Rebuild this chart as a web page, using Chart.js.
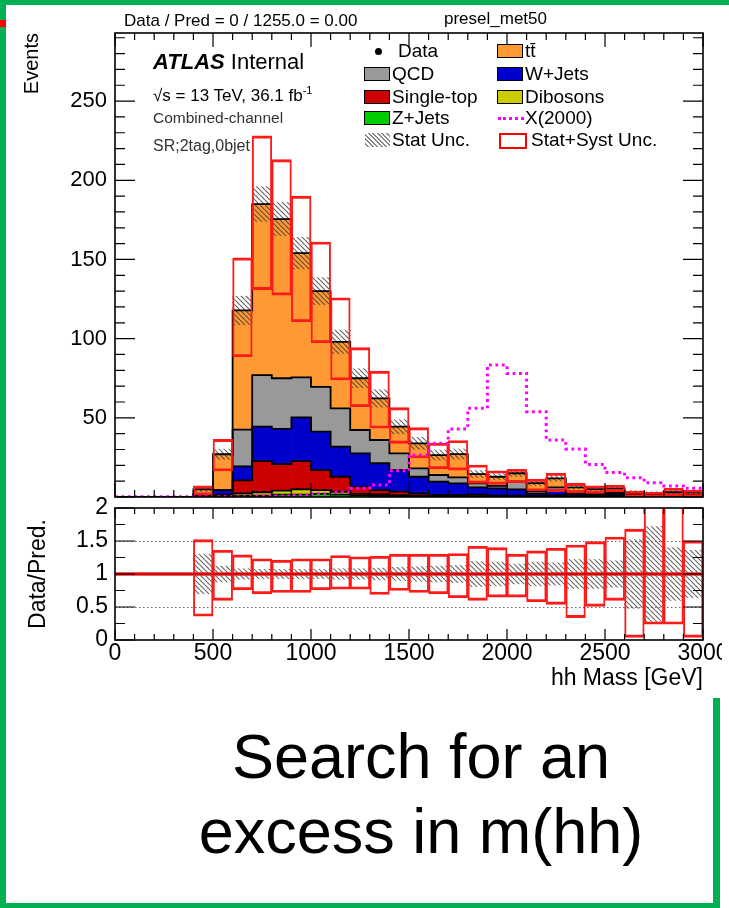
<!DOCTYPE html>
<html>
<head>
<meta charset="utf-8">
<title>hh mass</title>
<script src="https://cdn.jsdelivr.net/npm/chart.js@4.4.1/dist/chart.umd.min.js"></script>
<style>
  html, body { margin: 0; padding: 0; }
  body { width: 729px; height: 908px; position: relative; overflow: hidden; background: #fff;
         font-family: "Liberation Sans", Arial, Helvetica, sans-serif; color: #000; }
  .abs { position: absolute; white-space: nowrap; }
  #greenRight { left: 713px; top: 0; width: 7px; height: 908px; background: #00b050; z-index: 1; }
  #plot { left: 0; top: 0; width: 722px; height: 698px; background: #fff; overflow: hidden; z-index: 2; }
  #greenTop { left: 0; top: 0; width: 729px; height: 5px; background: #00b050; z-index: 3; }
  #greenLeft { left: 0; top: 0; width: 6px; height: 908px; background: #00b050; z-index: 3; }
  #greenBottom { left: 0; top: 903px; width: 720px; height: 5px; background: #00b050; z-index: 3; }
  #redMark { left: 0; top: 20px; width: 6px; height: 7px; background: #ff0000; z-index: 4; }
  canvas { position: absolute; left: 0; }
  #mainCanvas { top: 0; }
  #ratioCanvas { top: 490px; }
  .hdr { font-size: 17px; line-height: 20px; }
  .leg { font-size: 19px; line-height: 22px; }
  .sw { position: absolute; width: 24px; height: 12px; border: 1.5px solid #000; }
  sup { font-size: 11px; line-height: 0; vertical-align: 7px; }
  #caption { left: 113px; top: 719px; width: 616px; text-align: center; font-size: 63px; line-height: 75px; z-index: 2; }
</style>
</head>
<body>
<div id="greenRight" class="abs"></div>
<div id="plot" class="abs">
  <canvas id="mainCanvas" width="729" height="505"></canvas>
  <canvas id="ratioCanvas" width="729" height="210"></canvas>

  <div class="abs hdr" style="left:124px; top:11px;">Data / Pred = 0 / 1255.0 = 0.00</div>
  <div class="abs hdr" style="left:444px; top:9px;">presel_met50</div>

  <div class="abs" style="left:153px; top:49px; font-size:22px; line-height:26px;"><b><i>ATLAS</i></b> Internal</div>
  <div class="abs" style="left:153px; top:86px; font-size:17px; line-height:20px;">√s = 13 TeV, 36.1 fb<sup>-1</sup></div>
  <div class="abs" style="left:153px; top:109px; font-size:15.5px; line-height:18px; color:#333;">Combined-channel</div>
  <div class="abs" style="left:153px; top:137px; font-size:16px; line-height:18px; color:#333;">SR;2tag,0bjet</div>

  <!-- legend, left column -->
  <div class="abs" style="left:375px; top:48px; width:7px; height:7px; border-radius:50%; background:#000;"></div>
  <div class="abs leg" style="left:398px; top:40px;">Data</div>
  <div class="sw" style="left:364px; top:67px; background:#999999;"></div>
  <div class="abs leg" style="left:392px; top:63px;">QCD</div>
  <div class="sw" style="left:364px; top:90px; background:#cc0000;"></div>
  <div class="abs leg" style="left:392px; top:86px;">Single-top</div>
  <div class="sw" style="left:364px; top:111px; background:#00cc00;"></div>
  <div class="abs leg" style="left:392px; top:107px;">Z+Jets</div>
  <div class="abs" style="left:365px; top:133px; width:25px; height:14px;
       background:repeating-linear-gradient(45deg, #fff 0 2px, #888 2px 3.2px);"></div>
  <div class="abs leg" style="left:392px; top:129px;">Stat Unc.</div>

  <!-- legend, right column -->
  <div class="sw" style="left:497px; top:44px; background:#ff9933;"></div>
  <div class="abs leg" style="left:525px; top:40px;">t&#x0074;&#x0304;</div>
  <div class="sw" style="left:497px; top:67px; background:#0000cc;"></div>
  <div class="abs leg" style="left:525px; top:63px;">W+Jets</div>
  <div class="sw" style="left:497px; top:90px; background:#cccc00;"></div>
  <div class="abs leg" style="left:525px; top:86px;">Dibosons</div>
  <div class="abs" style="left:498px; top:117px; width:26px; height:0; border-top:3px dotted #ff00ff;"></div>
  <div class="abs leg" style="left:525px; top:107px;">X(2000)</div>
  <div class="sw" style="left:499px; top:133px; background:#fff; border:2px solid #ff0000;"></div>
  <div class="abs leg" style="left:531px; top:129px;">Stat+Syst Unc.</div>
</div>
<div id="greenTop" class="abs"></div>
<div id="greenLeft" class="abs"></div>
<div id="greenBottom" class="abs"></div>
<div id="redMark" class="abs"></div>
<div id="caption" class="abs">Search for an<br>excess in m(hh)</div>

<script>
// bin low edges of hh mass [GeV], 100 GeV wide
const binLow = [0, 100, 200, 300, 400, 500, 600, 700, 800, 900,
  1000, 1100, 1200, 1300, 1400, 1500, 1600, 1700, 1800, 1900,
  2000, 2100, 2200, 2300, 2400, 2500, 2600, 2700, 2800, 2900];
const xMax = 3000;

// background components, stacked bottom to top
const zJets = [0, 0, 0, 0, 0, 0.2, 0.8, 0.8, 1.5, 1.5, 2.0, 1.5, 1.0, 0.8, 0.6, 0.4, 0.3, 0.3, 0.2, 0.2,
  0.2, 0.2, 0.2, 0.2, 0.1, 0.1, 0.1, 0.1, 0.1, 0.1];
const dibosons = [0, 0, 0, 0, 0.2, 0.3, 1.5, 2.2, 2.5, 3.4, 2.4, 1.8, 1.0, 0.8, 0.6, 0.4, 0.3, 0.3, 0.2, 0.2,
  0.2, 0.1, 0.2, 0.2, 0.2, 0.2, 0.1, 0.1, 0.1, 0.1];
const singleTop = [0, 0, 0, 0, 0.5, 1.0, 8.2, 19.7, 16.8, 17.8, 12.6, 9.5, 4.5, 2.8, 2.2, 1.5, 0.7, 0.8, 1.1, 0.6,
  0.5, 0.4, 0.8, 0.6, 0.5, 0.5, 0.4, 0.3, 0.3, 0.3];
const wJets = [0, 0, 0, 0, 0.8, 2.9, 8.9, 21.7, 22.2, 27.6, 24.3, 19.0, 21.1, 16.9, 13.6, 10.5, 8.4, 7.2, 4.6, 4.5,
  3.9, 1.4, 2.8, 1.2, 0.8, 1.2, 0.6, 0.4, 0.5, 0.4];
const qcd = [0, 0, 0, 0, 0, 0, 23.1, 32.6, 32.0, 25.3, 28.3, 24.2, 14.7, 14.7, 10.6, 5.3, 4.2, 3.8, 2.5, 1.5,
  4.9, 1.5, 2.1, 1.2, 1.0, 1.0, 0.5, 0.3, 0.5, 0.5];
const ttbar = [0, 0, 0, 0, 3.4, 22.6, 75.3, 108, 100.5, 78.4, 60.4, 42.0, 32.7, 26.3, 16.8, 15.8, 12.6, 14.7, 5.9, 5.8,
  5.3, 5.1, 5.7, 2.7, 2.4, 2.5, 1.0, 0.7, 1.5, 1.3];

// stat uncertainty on the total prediction (events)
const statUnc = [0, 0, 0, 0, 1.5, 3.2, 9, 11, 10.5, 10, 8.5, 7.4, 6, 5.5, 4.5, 3.8, 3.2, 3.2, 2.2, 2,
  2, 1.5, 1.8, 1.2, 1, 1, 1.3, 1.4, 1.1, 0.9];
// stat+syst band edges (events)
const systUp = [null, null, null, null, 7, 36.4, 151, 228, 213, 190, 161, 125.8, 94.3, 79.5, 56.4, 43.8, 34, 35.7, 20.2, 16.6,
  17.5, 11.2, 15, 8.6, 7.1, 7.6, 3.8, 3, 5.5, 4.4];
const systDown = [null, null, null, null, 1.3, 16.4, 88.6, 131, 127.5, 110.7, 97.4, 73.9, 57, 43.4, 33.9, 24.6, 17.8, 17, 8.6, 8,
  9, 3.8, 3.4, 2.7, 2.3, 3.4, 0, 0.2, 0.6, 0.2];

// signal X(2000)
const signalX2000 = [0.2, 0.2, 0.2, 0.2, 0.2, 0.2, 0.2, 0.4, 0.6, 1.2, 2.0, 3.0, 5.5, 7.6, 16.6, 26.5, 33.9, 43, 56, 83.3,
  78, 53.9, 36, 30.3, 20.6, 15.4, 12.2, 9, 7, 5.5];

// ratio panel: stat+syst box edges and stat half width
const ratioUp = [null, null, null, null, 1.52, 1.36, 1.29, 1.23, 1.21, 1.23, 1.23, 1.28, 1.26, 1.27, 1.30, 1.30, 1.30, 1.31, 1.42, 1.40,
  1.30, 1.35, 1.39, 1.44, 1.49, 1.56, 1.68, 2.6, 2.6, 1.50];
const ratioDown = [null, null, null, null, 0.36, 0.60, 0.76, 0.70, 0.72, 0.72, 0.76, 0.77, 0.77, 0.69, 0.75, 0.72, 0.70, 0.64, 0.60, 0.65,
  0.65, 0.58, 0.54, 0.34, 0.51, 0.60, 0.04, 0.24, 0.24, 0.04];
const ratioStat = [null, null, null, null, 0.30, 0.12, 0.08, 0.07, 0.07, 0.07, 0.07, 0.08, 0.08, 0.09, 0.10, 0.11, 0.12, 0.13, 0.19, 0.18,
  0.15, 0.18, 0.17, 0.22, 0.22, 0.20, 0.52, 0.72, 0.40, 0.36];

const yTicksMain = [50, 100, 150, 200, 250];
const yTicksRatio = [0, 0.5, 1, 1.5, 2];
const xTicks = [0, 500, 1000, 1500, 2000, 2500, 3000];

Chart.defaults.font.family = '"Liberation Sans", Arial, Helvetica, sans-serif';
Chart.defaults.color = '#000';

const labels = binLow.map(String);
const components = [
  { label: 'Z+Jets', data: zJets, color: '#00cc00' },
  { label: 'Dibosons', data: dibosons, color: '#cccc00' },
  { label: 'Single-top', data: singleTop, color: '#cc0000' },
  { label: 'W+Jets', data: wJets, color: '#0000cc' },
  { label: 'QCD', data: qcd, color: '#999999' },
  { label: 'ttbar', data: ttbar, color: '#ff9933' },
];

// cumulative stack levels, used for the black step outlines
const cumLevels = [];
components.forEach((c, k) => {
  cumLevels.push(c.data.map((v, i) => v + (k ? cumLevels[k - 1][i] : 0)));
});
const total = cumLevels[cumLevels.length - 1];

function stepPoints(values) {
  const pts = binLow.map((x, i) => ({ x: x, y: values[i] }));
  pts.push({ x: xMax, y: values[values.length - 1] });
  return pts;
}

function makeHatch(color) {
  const c = document.createElement('canvas');
  c.width = 5; c.height = 5;
  const g = c.getContext('2d');
  g.strokeStyle = color;
  g.lineWidth = 1.1;
  g.beginPath();
  for (const o of [-5, 0, 5]) { g.moveTo(o, 0); g.lineTo(o + 5, 5); }
  g.stroke();
  return g.createPattern(c, 'repeat');
}

// ROOT-like frame with ticks drawn inside the pad
const rootFrame = {
  id: 'rootFrame',
  beforeDatasetsDraw(chart, args, o) {
    if (!o.gridLines) return;
    const { ctx, chartArea: a } = chart;
    const ys = chart.scales.y;
    ctx.save();
    ctx.strokeStyle = '#666';
    ctx.lineWidth = 1;
    ctx.setLineDash([1.5, 2.5]);
    for (const v of o.gridLines) {
      const y = Math.round(ys.getPixelForValue(v)) + 0.5;
      ctx.beginPath(); ctx.moveTo(a.left, y); ctx.lineTo(a.right, y); ctx.stroke();
    }
    ctx.restore();
  },
  afterDatasetsDraw(chart, args, o) {
    const { ctx, chartArea: a } = chart;
    const xs = chart.scales.xl, ys = chart.scales.y;
    ctx.save();
    if (o.unityLine) {
      const y = ys.getPixelForValue(1);
      ctx.strokeStyle = '#ff2020'; ctx.lineWidth = 3.5;
      ctx.beginPath(); ctx.moveTo(a.left, y); ctx.lineTo(a.right, y); ctx.stroke();
      ctx.strokeStyle = '#8b0000'; ctx.lineWidth = 1.2;
      ctx.beginPath(); ctx.moveTo(a.left, y); ctx.lineTo(a.right, y); ctx.stroke();
    }
    ctx.strokeStyle = '#000';
    ctx.lineWidth = 1.2;
    ctx.beginPath();
    for (let i = 0; i <= xMax / o.xMinor; i++) {
      const v = i * o.xMinor;
      const x = xs.getPixelForValue(v);
      const L = v % o.xMajor === 0 ? o.xMajLen : o.xMinLen;
      ctx.moveTo(x, a.bottom); ctx.lineTo(x, a.bottom - L);
      ctx.moveTo(x, a.top); ctx.lineTo(x, a.top + L);
    }
    const nY = Math.floor(ys.max / o.yMinor + 1e-6);
    for (let i = 0; i <= nY; i++) {
      const v = i * o.yMinor;
      const y = ys.getPixelForValue(v);
      const major = Math.abs(v / o.yMajor - Math.round(v / o.yMajor)) < 1e-6;
      const L = major ? o.yMajLen : o.yMinLen;
      ctx.moveTo(a.left, y); ctx.lineTo(a.left + L, y);
      ctx.moveTo(a.right, y); ctx.lineTo(a.right - L, y);
    }
    ctx.stroke();
    ctx.lineWidth = 1.6;
    ctx.strokeRect(a.left, a.top, a.right - a.left, a.bottom - a.top);
    ctx.restore();
  }
};

function fixLeft(s) { s.width = 115; s.paddingTop = 0; s.paddingBottom = 0; }
const plainNumber = v => String(v);

// ---------- main panel ----------
const hatchMain = makeHatch('rgba(55,55,55,0.8)');
const mainSets = [];
mainSets.push({
  type: 'line', label: 'X(2000)', data: stepPoints(signalX2000), xAxisID: 'xl', yAxisID: 'yl',
  stepped: true, borderColor: '#ff00ff', borderWidth: 3, borderDash: [2.8, 3.6], pointRadius: 0, order: 0
});
mainSets.push({
  label: 'Stat+Syst Unc.', data: systUp.map((u, i) => (u === null ? null : [systDown[i], u])),
  stack: 'syst', backgroundColor: 'rgba(0,0,0,0)', borderColor: '#ff1a1a',
  borderWidth: { top: 2.2, bottom: 2.2, left: 1.3, right: 1.3 }, borderSkipped: false, order: 1
});
cumLevels.forEach((lvl, k) => {
  mainSets.push({
    type: 'line', label: 'outline ' + k, data: stepPoints(lvl), xAxisID: 'xl', yAxisID: 'yl',
    stepped: true, borderColor: '#000', borderWidth: 1.8, pointRadius: 0, order: 2
  });
});
mainSets.push({
  label: 'Stat Unc.', data: total.map((t, i) => (statUnc[i] ? [t - statUnc[i], t + statUnc[i]] : null)),
  stack: 'stat', backgroundColor: hatchMain, borderWidth: 0, order: 3
});
components.forEach(c => {
  mainSets.push({ label: c.label, data: c.data, stack: 'bkg', backgroundColor: c.color, borderWidth: 0, order: 5 });
});

new Chart(document.getElementById('mainCanvas'), {
  type: 'bar',
  data: { labels: labels, datasets: mainSets },
  options: {
    responsive: false, animation: false, events: [],
    layout: { padding: { left: 0, right: 26, top: 33, bottom: 8 } },
    datasets: { bar: { grouped: false, barPercentage: 1, categoryPercentage: 1 } },
    plugins: {
      legend: { display: false }, tooltip: { enabled: false },
      rootFrame: { xMajor: 500, xMinor: 100, xMajLen: 14, xMinLen: 7, yMajor: 50, yMinor: 10, yMajLen: 20, yMinLen: 10 }
    },
    scales: {
      x: { type: 'category', display: false, offset: true },
      xl: { type: 'linear', display: false, offset: false, min: 0, max: xMax },
      yl: { type: 'linear', display: false, min: 0, max: 293 },
      y: {
        type: 'linear', stacked: true, min: 0, max: 293, position: 'left',
        afterBuildTicks: s => { s.ticks = yTicksMain.map(v => ({ value: v })); },
        afterFit: fixLeft,
        grid: { display: false, drawTicks: false }, border: { display: false },
        ticks: { font: { size: 22 }, padding: 8, color: '#000', callback: plainNumber },
        title: { display: true, text: 'Events', align: 'end', font: { size: 20 }, padding: { top: 20.5 }, color: '#000' }
      }
    }
  },
  plugins: [rootFrame]
});

// ---------- ratio panel ----------
const hatchRatio = makeHatch('rgba(70,70,70,0.85)');
new Chart(document.getElementById('ratioCanvas'), {
  type: 'bar',
  data: {
    labels: labels,
    datasets: [
      {
        label: 'Stat+Syst Unc.', data: ratioUp.map((u, i) => (u === null ? null : [ratioDown[i], u])),
        backgroundColor: 'rgba(0,0,0,0)', borderColor: '#ff1a1a',
        borderWidth: { top: 2.2, bottom: 2.2, left: 1.3, right: 1.3 }, borderSkipped: false, order: 1
      },
      {
        label: 'Stat Unc.', data: ratioStat.map(s => (s === null ? null : [1 - s, 1 + s])),
        backgroundColor: hatchRatio, borderWidth: 0, order: 2
      }
    ]
  },
  options: {
    responsive: false, animation: false, events: [],
    layout: { padding: { left: 0, right: 26, top: 18, bottom: 0 } },
    datasets: { bar: { grouped: false, barPercentage: 1, categoryPercentage: 1 } },
    plugins: {
      legend: { display: false }, tooltip: { enabled: false },
      rootFrame: { xMajor: 500, xMinor: 100, xMajLen: 11, xMinLen: 6, yMajor: 0.5, yMinor: 0.25, yMajLen: 20, yMinLen: 10,
        gridLines: [0.5, 1.5], unityLine: true }
    },
    scales: {
      x: { type: 'category', display: false, offset: true },
      xl: {
        type: 'linear', position: 'bottom', offset: false, min: 0, max: xMax,
        afterBuildTicks: s => { s.ticks = xTicks.map(v => ({ value: v })); },
        afterFit: s => { s.height = 60; s.paddingLeft = 0; s.paddingRight = 0; },
        grid: { display: false, drawTicks: false }, border: { display: false },
        ticks: { font: { size: 23 }, padding: 0, color: '#000', maxRotation: 0, autoSkip: false, callback: plainNumber },
        title: { display: true, text: 'hh Mass [GeV]', align: 'end', font: { size: 23 }, padding: { bottom: 8 }, color: '#000' }
      },
      y: {
        type: 'linear', min: 0, max: 2, position: 'left',
        afterBuildTicks: s => { s.ticks = yTicksRatio.map(v => ({ value: v })); },
        afterFit: fixLeft,
        grid: { display: false, drawTicks: false }, border: { display: false },
        ticks: { font: { size: 23 }, padding: 7, color: '#000', callback: plainNumber },
        title: { display: true, text: 'Data/Pred.', align: 'center', font: { size: 23 }, padding: { top: 24.7 }, color: '#000' }
      }
    }
  },
  plugins: [rootFrame]
});
</script>
</body>
</html>
